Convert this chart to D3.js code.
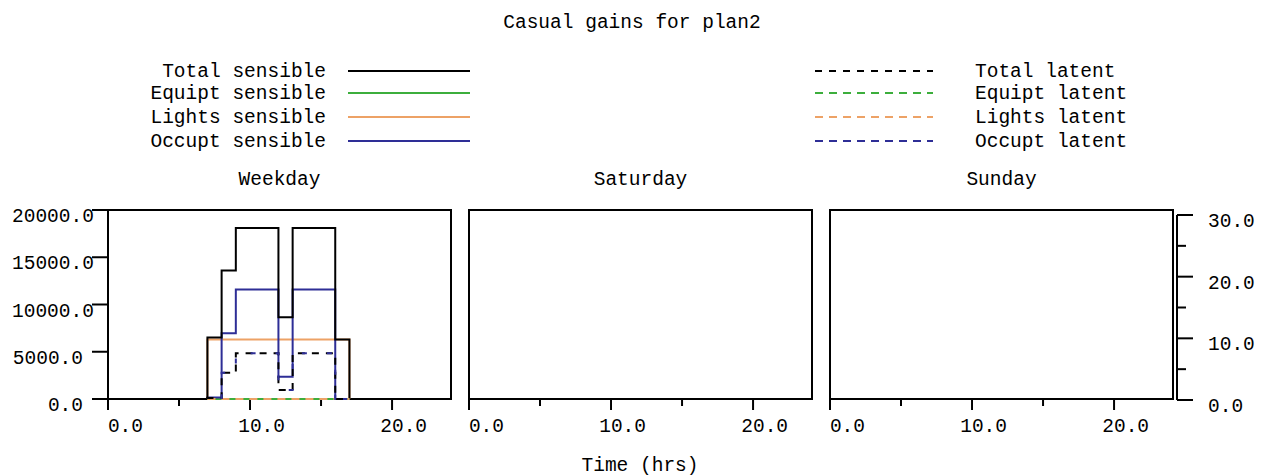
<!DOCTYPE html>
<html>
<head>
<meta charset="utf-8">
<script src="https://cdn.jsdelivr.net/npm/d3@7"></script>
<style>
  body { margin: 0; background: #fff; }
  text { font-family: "Liberation Mono", monospace; font-size: 19.5px; fill: #000; }
</style>
</head>
<body>
<div id="chart"></div>
<script>
const width = 1265
const height = 476

// data
const dayTypes = ["Weekday", "Saturday", "Sunday"]
const hours = [7, 8, 9, 10, 11, 12, 13, 14, 15, 16]   // start hour of each step, last one ends at 17
const endHour = 17
const totalSensible  = [6500, 13600, 18100, 18100, 18100, 8650, 18100, 18100, 18100, 6300]
const equiptSensible = [0, 0, 0, 0, 0, 0, 0, 0, 0, 0]
const lightsSensible = [6300, 6300, 6300, 6300, 6300, 6300, 6300, 6300, 6300, 6300]
const occuptSensible = [150, 6950, 11600, 11600, 11600, 2350, 11600, 11600, 11600, 0]
const totalLatent    = [100, 2780, 4850, 4850, 4850, 950, 4850, 4850, 4850, 0]
const equiptLatent   = [0, 0, 0, 0, 0, 0, 0, 0, 0, 0]
const lightsLatent   = [0, 0, 0, 0, 0, 0, 0, 0, 0, 0]
const occuptLatent   = [100, 2780, 4850, 4850, 4850, 950, 4850, 4850, 4850, 0]
const xTicks = [0, 5, 10, 15, 20]
const yTicks = [0, 5000, 10000, 15000, 20000]
const rightTicks = [0, 5, 10, 15, 20, 25, 30]

const black = "#000", green = "#3cae3c", orange = "#eda266", blue = "#2e2e96"

let sensible = [
  {name: "Total sensible", values: totalSensible, color: black},
  {name: "Equipt sensible", values: equiptSensible, color: green},
  {name: "Lights sensible", values: lightsSensible, color: orange},
  {name: "Occupt sensible", values: occuptSensible, color: blue}
]
let latent = [
  {name: "Total latent", values: totalLatent, color: black, dash: "7,7"},
  {name: "Equipt latent", values: equiptLatent, color: green, dash: "8,6"},
  {name: "Lights latent", values: lightsLatent, color: orange, dash: "8,6"},
  {name: "Occupt latent", values: occuptLatent, color: blue, dash: "8,6"}
]

let svg = d3.select("#chart")
            .append("svg")
            .attr("width", width)
            .attr("height", height)

svg.append("text")
   .attr("x", 632)
   .attr("y", 28)
   .attr("text-anchor", "middle")
   .text("Casual gains for plan2")

//Legend
let rowY = [71, 93, 117, 141]
let legend = svg.append("g").attr("id", "legend")
for (var i = 0; i < sensible.length; i++) {
  legend.append("text")
        .attr("x", 326)
        .attr("y", rowY[i] + 6)
        .attr("text-anchor", "end")
        .text(sensible[i].name)
  legend.append("line")
        .attr("x1", 348).attr("x2", 470)
        .attr("y1", rowY[i]).attr("y2", rowY[i])
        .attr("stroke", sensible[i].color)
        .attr("stroke-width", 2)
  legend.append("line")
        .attr("x1", 815).attr("x2", 933)
        .attr("y1", rowY[i]).attr("y2", rowY[i])
        .attr("stroke", latent[i].color)
        .attr("stroke-width", 2)
        .attr("stroke-dasharray", latent[i].dash)
  legend.append("text")
        .attr("x", 975)
        .attr("y", rowY[i] + 6)
        .text(latent[i].name)
}

// panels
const plotTop = 210, plotBottom = 399
const panelLeft = [108, 469, 830]
const panelWidth = 343

var y = d3.scaleLinear().domain([0, 20000]).range([plotBottom, plotTop])
var yRight = d3.scaleLinear().domain([0, 30]).range([400, 215])
var fmt = d3.format(".1f")

dayTypes.forEach(function(day, p) {
  var x = d3.scaleLinear().domain([0, 24.15]).range([panelLeft[p], panelLeft[p] + panelWidth])
  let g = svg.append("g").attr("class", "panel")

  g.append("text")
   .attr("x", panelLeft[p] + panelWidth / 2)
   .attr("y", 185)
   .attr("text-anchor", "middle")
   .text(day)

  g.append("rect")
   .attr("x", panelLeft[p]).attr("y", plotTop)
   .attr("width", panelWidth).attr("height", plotBottom - plotTop)
   .attr("fill", "none").attr("stroke", "#000").attr("stroke-width", 2)

  // x ticks
  xTicks.forEach(function(t) {
    let major = t % 10 == 0
    g.append("line")
     .attr("x1", x(t)).attr("x2", x(t))
     .attr("y1", plotBottom).attr("y2", plotBottom + (major ? 11 : 7))
     .attr("stroke", "#000").attr("stroke-width", 2)
    if (major) {
      g.append("text")
       .attr("x", x(t) + 35)
       .attr("y", 432)
       .attr("text-anchor", "end")
       .text(fmt(t))
    }
  })

  if (day != "Weekday") return

  yTicks.forEach(function(t) {
    g.append("line")
     .attr("x1", panelLeft[p] - 16).attr("x2", panelLeft[p])
     .attr("y1", y(t)).attr("y2", y(t))
     .attr("stroke", "#000").attr("stroke-width", 2)
    let label = fmt(t)
    g.append("text")
     .attr("x", label.length > 6 ? 12 : 83)
     .attr("y", y(t) + 12)
     .attr("text-anchor", label.length > 6 ? "start" : "end")
     .text(label)
  })

  var line = d3.line()
    .x(d => x(d[0]))
    .y(d => y(d[1]))
    .curve(d3.curveStepAfter)

  function steps(values) {
    let pts = [[hours[0], 0]]
    hours.forEach((h, k) => pts.push([h, values[k]]))
    pts.push([endHour, values[values.length - 1]])
    pts.push([endHour, 0])
    return pts
  }

  let drawOrder = [sensible[1], sensible[2], sensible[3], sensible[0]]
  drawOrder.forEach(function(s) {
    g.append("path")
     .datum(steps(s.values))
     .attr("d", line)
     .attr("fill", "none")
     .attr("stroke", s.color)
     .attr("stroke-width", 2)
  })
  // occupant latent sits on top of total latent, offset so both show (dash-dot look)
  let latentOrder = [latent[1], latent[2], latent[0], latent[3]]
  latentOrder.forEach(function(s) {
    g.append("path")
     .datum(steps(s.values))
     .attr("d", line)
     .attr("fill", "none")
     .attr("stroke", s.color)
     .attr("stroke-width", 2)
     .attr("stroke-dasharray", s == latent[3] ? "5,20" : s.dash)
     .attr("stroke-dashoffset", s == latent[3] ? -14 : 0)
  })
})

// right axis (Sunday)
let axisX = 1177
svg.append("line")
   .attr("x1", axisX).attr("x2", axisX)
   .attr("y1", yRight(30)).attr("y2", yRight(0))
   .attr("stroke", "#000").attr("stroke-width", 2)
rightTicks.forEach(function(t) {
  let major = t % 10 == 0
  svg.append("line")
     .attr("x1", axisX).attr("x2", axisX + (major ? 16 : 9))
     .attr("y1", yRight(t)).attr("y2", yRight(t))
     .attr("stroke", "#000").attr("stroke-width", 2)
  if (major) {
    svg.append("text")
       .attr("x", 1208)
       .attr("y", yRight(t) + 12)
       .text(fmt(t))
  }
})

svg.append("text")
   .attr("x", 640)
   .attr("y", 471)
   .attr("text-anchor", "middle")
   .text("Time (hrs)")
</script>
</body>
</html>
